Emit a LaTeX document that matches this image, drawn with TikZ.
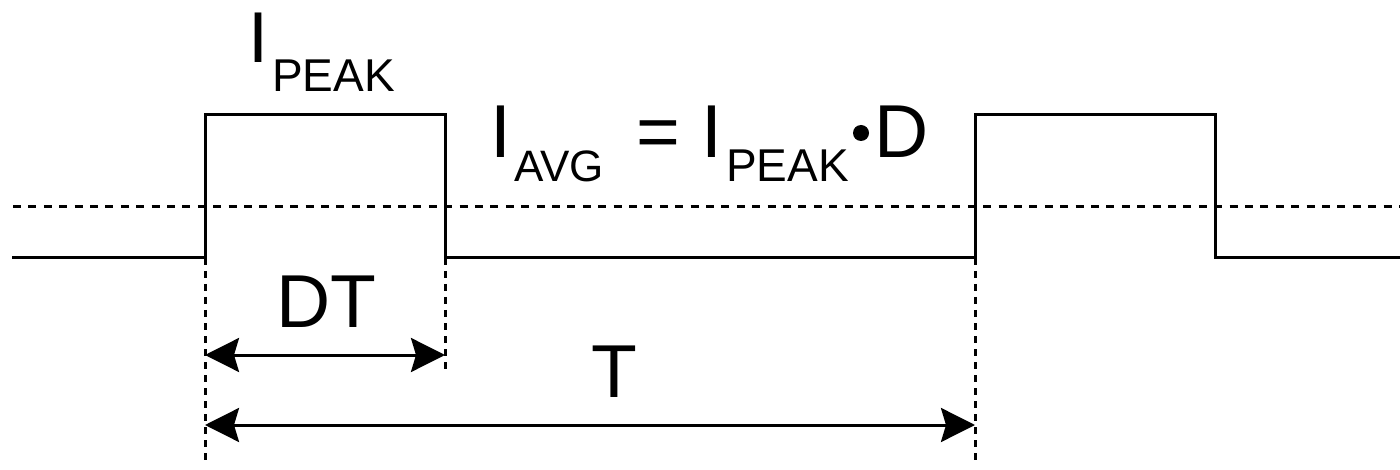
\documentclass[tikz,border=0pt]{standalone}
\usepackage{fontspec}
\setmainfont{Liberation Sans}
\usetikzlibrary{arrows.meta}
\begin{document}
\begin{tikzpicture}[x=1pt,y=-1pt,
  wave/.style={line width=3pt,line cap=butt,line join=miter},
  avgline/.style={line width=3pt,dash pattern=on 8pt off 7.4pt},
  guide/.style={line width=3pt,dash pattern=on 7pt off 6pt},
  dimarrow/.style={line width=3pt,{Stealth[length=34pt,width=34pt,inset=5pt]}-{Stealth[length=34pt,width=34pt,inset=5pt]}},
  lbl/.style={inner sep=0pt,anchor=base west},
  bigtxt/.style={lbl,font=\fontsize{75}{75}\selectfont},
  subtxt/.style={lbl,font=\fontsize{46}{46}\selectfont},
]
\useasboundingbox (0,0) rectangle (1400,470);
% waveform corners
\coordinate (w0) at (12,258);
\coordinate (r1) at (205,258);
\coordinate (r1t) at (205,115);
\coordinate (f1t) at (445,115);
\coordinate (f1) at (445,258);
\coordinate (r2) at (975,258);
\coordinate (r2t) at (975,115);
\coordinate (f2t) at (1215,115);
\coordinate (f2) at (1215,258);
\coordinate (w1) at (1400,258);
\draw[wave] (w0) -- (r1) -- (r1t) -- (f1t) -- (f1) -- (r2) -- (r2t) -- (f2t) -- (f2) -- (w1);
% average level
\coordinate (a0) at (13,207);
\coordinate (a1) at (1400,207);
\draw[avgline] (a0) -- (a1);
% guides
\coordinate (g1) at (205,465);
\coordinate (g2) at (445,372);
\coordinate (g3) at (975,465);
\draw[guide] (r1) -- (g1);
\draw[guide] (f1) -- (g2);
\draw[guide] (r2) -- (g3);
% dimension arrows
\coordinate (d0) at (205,355);
\coordinate (d1) at (445,355);
\coordinate (t0) at (205,425);
\coordinate (t1) at (975,425);
\draw[dimarrow] (d0) -- (d1);
\draw[dimarrow] (t0) -- (t1);
% top label
\node[lbl,font=\fontsize{72}{72}\selectfont] (ipk) at (248,63) {I};
\node[subtxt] (ipks) at (272,92) {PEAK};
% formula
\node[bigtxt] (iavg) at (490,158) {I};
\node[lbl,font=\fontsize{44}{44}\selectfont] (iavgs) at (514,182) {AVG};
\node[bigtxt] (eq) at (636,158) {=};
\node[bigtxt] (ipk2) at (701,158) {I};
\node[subtxt] (ipk2s) at (726,182) {PEAK};
\node[fill,circle,inner sep=0pt,minimum size=16pt] (dot) at (861,133) {};
\node[bigtxt] (dd) at (874,158) {D};
% dimension labels
\node[bigtxt] (dt) at (276,327) {DT};
\node[bigtxt] (tl) at (591,397) {T};
\end{tikzpicture}
\end{document}
